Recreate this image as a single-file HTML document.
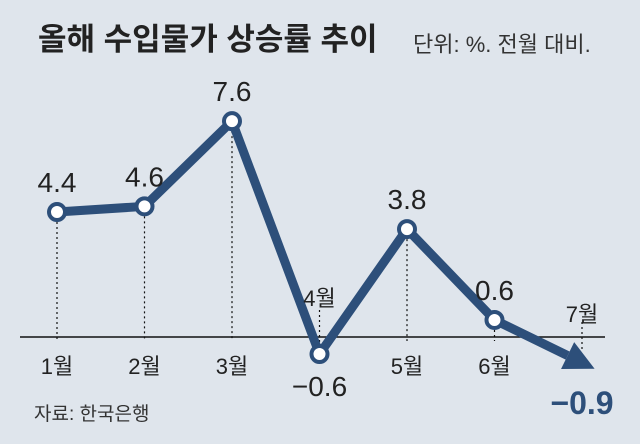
<!DOCTYPE html>
<html><head><meta charset="utf-8"><style>
body{margin:0;background:#dfe5ec;}
svg{display:block;font-family:"Liberation Sans","Noto Sans CJK KR",sans-serif;}
</style></head><body>
<svg id="c" width="640" height="444" viewBox="0 0 640 444">
<rect width="640" height="444" fill="#dfe5ec"/>
<text x="38" y="50" font-size="31" font-weight="bold" fill="#222">올해 수입물가 상승률 추이</text>
<text x="413" y="52" font-size="22" fill="#333">단위: %. 전월 대비.</text>
<line x1="20" y1="337" x2="605" y2="337" stroke="#111" stroke-width="1.5"/>
<g id="marks"></g>
<text x="34" y="420" font-size="19" fill="#333">자료: 한국은행</text>
</svg>
<script>
const months=['1월','2월','3월','4월','5월','6월','7월'];
const values=[4.4,4.6,7.6,-0.6,3.8,0.6,-0.9];
const valueLabels=['4.4','4.6','7.6','−0.6','3.8','0.6','−0.9'];
const NS='http://www.w3.org/2000/svg';
const g=document.getElementById('marks');
function xs(i){return 57+i*87.5;}
function ys(v){return 337-v*28.4;}
function mk(t,a){const e=document.createElementNS(NS,t);for(const k in a)e.setAttribute(k,a[k]);g.appendChild(e);return e;}
const n=values.length;
for(let i=0;i<n;i++){
 const x=xs(i),y=ys(values[i]);
 let d;
 if(i===n-1) d=mk('line',{x1:x,y1:322,x2:x,y2:350,stroke:'#111','stroke-width':1.2,'stroke-dasharray':'2,3'});
 else if(values[i]>=0) d=mk('line',{x1:x,y1:y,x2:x,y2:341,stroke:'#111','stroke-width':1.2,'stroke-dasharray':'2,3'});
 else d=mk('line',{x1:x,y1:310,x2:x,y2:y,stroke:'#111','stroke-width':1.2,'stroke-dasharray':'2,3'});
 
 
}
let pts=[];
for(let i=0;i<n-1;i++)pts.push(xs(i)+','+ys(values[i]));
const lx=xs(n-1),ly=ys(values[n-1]);
const px=xs(n-2),py=ys(values[n-2]);
const dx=lx-px,dy=ly-py,L=Math.hypot(dx,dy),ux=dx/L,uy=dy/L;
const tipx=lx+ux*14,tipy=ly+uy*14;
const bx=tipx-ux*30,by=tipy-uy*30;
pts.push(bx+','+by);
const pl=mk('polyline',{points:pts.join(' '),fill:'none',stroke:'#2d4f7a','stroke-width':9,'stroke-linejoin':'miter'});


const ar=mk('polygon',{points:`${tipx},${tipy} ${bx-uy*15},${by+ux*15} ${bx+uy*15},${by-ux*15}`,fill:'#2d4f7a'});


for(let i=0;i<n;i++){
 const x=xs(i),y=ys(values[i]);
 if(i<n-1){
  const c=mk('circle',{cx:x,cy:y,r:8,fill:'#fff',stroke:'#2d4f7a','stroke-width':4});
  
  
 }
 let vy,my;
 if(i===n-1){vy=414;my=322;}
 else if(values[i]>=0){vy=y-20;my=374;}
 else{vy=y+42;my=306;}
 const vt=mk('text',{x:i===n-1?x:x,y:vy,'font-size':i===n-1?32:28,'text-anchor':'middle',fill:i===n-1?'#2d4f7a':'#222','font-weight':i===n-1?'bold':'normal'});
 vt.textContent=valueLabels[i];
 
 
 const mt=mk('text',{x:x,y:my,'font-size':22,'text-anchor':'middle',fill:'#222'});
 mt.textContent=months[i];
 
 
}
</script>
</body></html>
